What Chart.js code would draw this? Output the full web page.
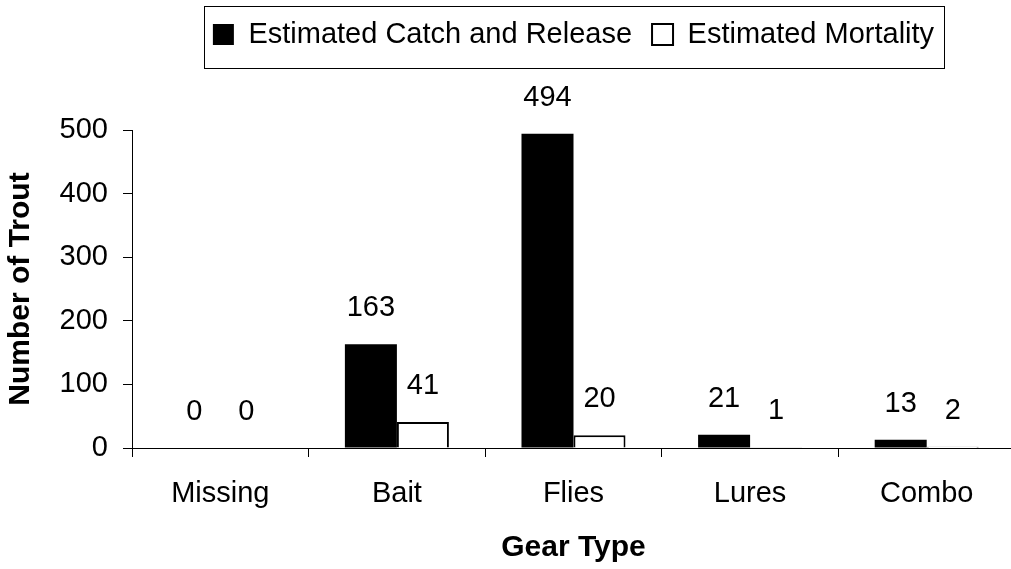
<!DOCTYPE html>
<html>
<head>
<meta charset="utf-8">
<script src="https://cdn.jsdelivr.net/npm/chart.js@4/dist/chart.umd.min.js"></script>
<style>
html,body{margin:0;padding:0;background:#fff;overflow:hidden;width:1011px;height:569px;}
#wrap{width:1016px;height:569px;}
</style>
</head>
<body>
<div id="wrap"><canvas id="c" width="1016" height="569"></canvas></div>
<script>
const categories = ["Missing", "Bait", "Flies", "Lures", "Combo"];
const catchRelease = [0, 163, 494, 21, 13];
const mortality = [0, 41, 20, 1, 2];
const seriesNames = ["Estimated Catch and Release", "Estimated Mortality"];
const yTicks = [0, 100, 200, 300, 400, 500];

const FONT = "'Liberation Sans', Arial, sans-serif";

const valueLabels = {
  id: 'valueLabels',
  afterDatasetsDraw(chart) {
    const ctx = chart.ctx;
    ctx.save();
    ctx.font = "29px " + FONT;
    ctx.fillStyle = "#000";
    ctx.textAlign = "center";
    ctx.textBaseline = "alphabetic";
    chart.data.datasets.forEach((ds, i) => {
      const meta = chart.getDatasetMeta(i);
      meta.data.forEach((el, j) => {
        ctx.fillText(String(ds.data[j]), el.x, el.y - 28);
      });
    });
    ctx.restore();
  }
};

const legendFrame = {
  id: 'legendFrame',
  afterDraw(chart) {
    const lg = chart.legend;
    if (!lg || !lg.legendHitBoxes || !lg.legendHitBoxes.length) return;
    const hb = lg.legendHitBoxes;
    const first = hb[0], last = hb[hb.length - 1];
    const left = first.left - 9;
    const right = last.left + last.width + 10;
    const ctx = chart.ctx;
    ctx.save();
    ctx.strokeStyle = "#000";
    ctx.lineWidth = 1;
    ctx.strokeRect(Math.round(left) + 0.5, 6.5, Math.round(right - left), 62);
    ctx.restore();
  }
};

new Chart(document.getElementById('c'), {
  type: 'bar',
  data: {
    labels: categories,
    datasets: [
      { label: seriesNames[0], data: catchRelease, backgroundColor: '#000', borderColor: '#000', borderWidth: 0 },
      { label: seriesNames[1], data: mortality, backgroundColor: '#fff', borderColor: '#000', borderWidth: 2 }
    ]
  },
  options: {
    responsive: false,
    animation: false,
    devicePixelRatio: 1,
    layout: { padding: { top: 0, left: 0, right: 1, bottom: 6 } },
    datasets: { bar: { categoryPercentage: 0.589, barPercentage: 1.0 } },
    plugins: {
      tooltip: { enabled: false },
      legend: {
        display: true,
        position: 'top',
        fullSize: false,
        labels: {
          color: '#000',
          font: { family: FONT, size: 29 },
          boxWidth: 21,
          boxHeight: 21,
          padding: 20,
          generateLabels(chart) {
            return chart.data.datasets.map((ds, i) => ({
              text: ds.label,
              fillStyle: ds.backgroundColor,
              strokeStyle: '#000',
              lineWidth: i === 0 ? 0 : 2,
              hidden: false,
              datasetIndex: i,
              fontColor: '#000'
            }));
          }
        }
      },
      title: {
        display: true,
        text: ' ',
        weight: 500,
        padding: { top: 0, bottom: 59 },
        font: { family: FONT, size: 10 },
        position: 'top'
      }
    },
    scales: {
      x: {
        offset: true,
        afterFit(scale) { scale.height = 115; },
        grid: { display: true, drawOnChartArea: false, drawTicks: true, tickLength: 9, color: '#000', offset: true },
        border: { display: true, color: '#000', width: 1 },
        ticks: { color: '#000', font: { family: FONT, size: 29, lineHeight: 1 }, padding: 22.5, maxRotation: 0, autoSkip: false },
        title: { display: true, text: 'Gear Type', color: '#000', font: { family: FONT, size: 30, weight: 'bold', lineHeight: 1 }, padding: { top: 0, bottom: 0 } }
      },
      y: {
        min: 0,
        max: 500,
        afterFit(scale) { scale.width = 132; },
        afterBuildTicks(scale) { scale.ticks = yTicks.map(v => ({ value: v })); },
        grid: { display: true, drawOnChartArea: false, drawTicks: true, tickLength: 9, color: '#000' },
        border: { display: true, color: '#000', width: 1 },
        ticks: { color: '#000', font: { family: FONT, size: 29 }, padding: 15 },
        title: { display: true, text: 'Number of Trout', color: '#000', font: { family: FONT, size: 30, weight: 'bold' }, padding: { top: 3, bottom: 4 } }
      }
    }
  },
  plugins: [valueLabels, legendFrame]
});
</script>
</body>
</html>
